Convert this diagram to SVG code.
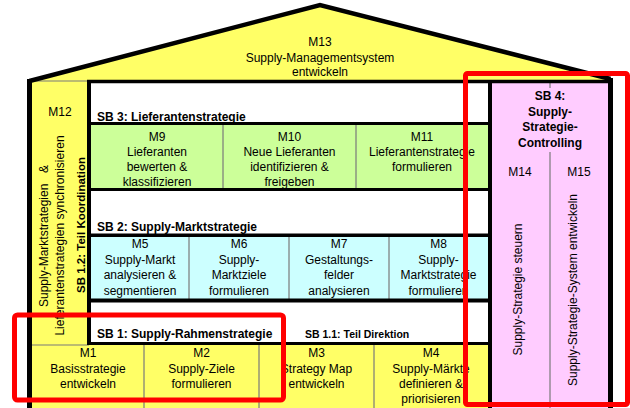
<svg xmlns="http://www.w3.org/2000/svg" width="630" height="408" viewBox="0 0 630 408">
<style>
text{font-family:"Liberation Sans",Arial,sans-serif;font-size:12px;fill:#000}
.c{text-anchor:middle}
.b{font-weight:bold}
.blk{stroke:#000;fill:none}
.div{stroke:#7a7a7a;stroke-width:1.2;fill:none}
.red{fill:none;stroke:#ff0000;stroke-width:5}
</style>
<rect width="630" height="408" fill="#fff"/>
<g id="roof">
<polygon points="28,81 320,5 612,81" fill="#ffff66"/>
<text class="c" x="320" y="46">M13</text>
<text class="c" x="320" y="61.5">Supply-Managementsystem</text>
<text class="c" x="320" y="76">entwickeln</text>
</g>
<g id="frame">
<rect x="31" y="81" width="58" height="264" fill="#ffff66"/>
<rect x="89" y="81" width="401" height="263" fill="#fff"/>
<rect x="91" y="124" width="397" height="65" fill="#ccff99"/>
<rect x="91" y="236" width="397" height="64" fill="#ccffff"/>
<rect x="31" y="344" width="459" height="64" fill="#ffff66"/>
<rect x="490" y="81" width="120" height="327" fill="#ffccff"/>
<line class="div" x1="32" y1="81" x2="89" y2="81"/>
<line class="div" x1="32" y1="345" x2="89" y2="345"/>
<line class="div" x1="223" y1="125" x2="223" y2="188"/>
<line class="div" x1="356" y1="125" x2="356" y2="188"/>
<line class="div" x1="189" y1="237" x2="189" y2="299"/>
<line class="div" x1="289" y1="237" x2="289" y2="299"/>
<line class="div" x1="389" y1="237" x2="389" y2="299"/>
<line class="div" x1="144" y1="345" x2="144" y2="408"/>
<line class="div" x1="259" y1="345" x2="259" y2="408"/>
<line class="div" x1="374" y1="345" x2="374" y2="408"/>
<line class="div" x1="550" y1="83" x2="550" y2="88"/>
<line class="div" x1="550" y1="152" x2="550" y2="408"/>
<path class="blk" stroke-width="4.5" d="M29.5,81 L320,5 L610.5,79"/>
<line class="blk" stroke-width="5" x1="29.5" y1="79" x2="29.5" y2="408"/>
<line class="blk" stroke-width="5" x1="610.5" y1="78" x2="610.5" y2="408"/>
<line class="blk" stroke-width="3.5" x1="87" y1="81.5" x2="613" y2="81.5"/>
<line class="blk" stroke-width="4" x1="89" y1="80" x2="89" y2="345"/>
<line class="blk" stroke-width="4" x1="490" y1="80" x2="490" y2="408"/>
<line class="blk" stroke-width="3" x1="89" y1="123.5" x2="490" y2="123.5"/>
<line class="blk" stroke-width="3" x1="89" y1="189.5" x2="490" y2="189.5"/>
<line class="blk" stroke-width="3.5" x1="89" y1="235.3" x2="490" y2="235.3"/>
<line class="blk" stroke-width="4" x1="89" y1="300.5" x2="490" y2="300.5"/>
<line class="blk" stroke-width="3" x1="89" y1="343.5" x2="490" y2="343.5"/>
</g>
<g id="connectors"></g>
<g id="titles">
<text class="b" x="97" y="120.5">SB 3: Lieferantenstrategie</text>
<text class="b" x="97" y="230.5">SB 2: Supply-Marktstrategie</text>
<text class="b" x="97" y="337.5">SB 1: Supply-Rahmenstrategie</text>
<text class="b" x="305" y="337.5" style="font-size:10.5px">SB 1.1: Teil Direktion</text>
</g>
<g id="M12">
<text class="c" x="60" y="116">M12</text>
<g transform="rotate(-90)">
<text x="-307" y="47.5">Supply-Marktstrategien<tspan x="-173">&amp;</tspan></text>
<text class="c" x="-235.5" y="64">Lieferantenstrategien synchronisieren</text>
<text class="c b" x="-225" y="85" style="font-size:11.5px">SB 1.2: Teil Koordination</text>
</g>
</g>
<g id="M9"><text class="c" x="157" y="140.5">M9</text><text class="c" x="157" y="155.5">Lieferanten</text><text class="c" x="157" y="170.5">bewerten &amp;</text><text class="c" x="157" y="185.5">klassifizieren</text></g>
<g id="M10"><text class="c" x="289.5" y="140.5">M10</text><text class="c" x="289.5" y="155.5">Neue Lieferanten</text><text class="c" x="289.5" y="170.5">identifizieren &amp;</text><text class="c" x="289.5" y="185.5">freigeben</text></g>
<g id="M11"><text class="c" x="422" y="140.5">M11</text><text class="c" x="422" y="155.5">Lieferantenstrategie</text><text class="c" x="422" y="170.5">formulieren</text></g>
<g id="M5"><text class="c" x="140" y="248">M5</text><text class="c" x="140" y="263.5">Supply-Markt</text><text class="c" x="140" y="279">analysieren &amp;</text><text class="c" x="140" y="294.5">segmentieren</text></g>
<g id="M6"><text class="c" x="239" y="248">M6</text><text class="c" x="239" y="263.5">Supply-</text><text class="c" x="239" y="279">Marktziele</text><text class="c" x="239" y="294.5">formulieren</text></g>
<g id="M7"><text class="c" x="339" y="248">M7</text><text class="c" x="339" y="263.5">Gestaltungs-</text><text class="c" x="339" y="279">felder</text><text class="c" x="339" y="294.5">analysieren</text></g>
<g id="M8"><text class="c" x="438.5" y="248">M8</text><text class="c" x="438.5" y="263.5">Supply-</text><text class="c" x="438.5" y="279">Marktstrategie</text><text class="c" x="438.5" y="294.5">formulieren</text></g>
<g id="M1"><text class="c" x="88" y="357">M1</text><text class="c" x="88" y="373">Basisstrategie</text><text class="c" x="88" y="388">entwickeln</text></g>
<g id="M2"><text class="c" x="201.5" y="357">M2</text><text class="c" x="201.5" y="373">Supply-Ziele</text><text class="c" x="201.5" y="388">formulieren</text></g>
<g id="M3"><text class="c" x="316.5" y="357">M3</text><text class="c" x="316.5" y="373">Strategy Map</text><text class="c" x="316.5" y="388">entwickeln</text></g>
<g id="M4"><text class="c" x="431" y="357">M4</text><text class="c" x="431" y="373">Supply-Märkte</text><text class="c" x="431" y="388">definieren &amp;</text><text class="c" x="431" y="402.5">priorisieren</text></g>
<g id="SB4">
<text class="c b" x="550" y="100">SB 4:</text>
<text class="c b" x="550" y="115.5">Supply-</text>
<text class="c b" x="550" y="131">Strategie-</text>
<text class="c b" x="550" y="146.5">Controlling</text>
</g>
<g id="M14"><text class="c" x="520" y="176">M14</text><text class="c" transform="rotate(-90)" x="-289.5" y="522">Supply-Strategie steuern</text></g>
<g id="M15"><text class="c" x="579" y="176">M15</text><text class="c" transform="rotate(-90)" x="-290" y="577">Supply-Strategie-System entwickeln</text></g>
<g id="highlights">
<rect class="red" x="465.5" y="73.5" width="162" height="331" rx="2"/>
<rect class="red" x="14.5" y="315" width="269" height="85" rx="3"/>
</g>
</svg>
